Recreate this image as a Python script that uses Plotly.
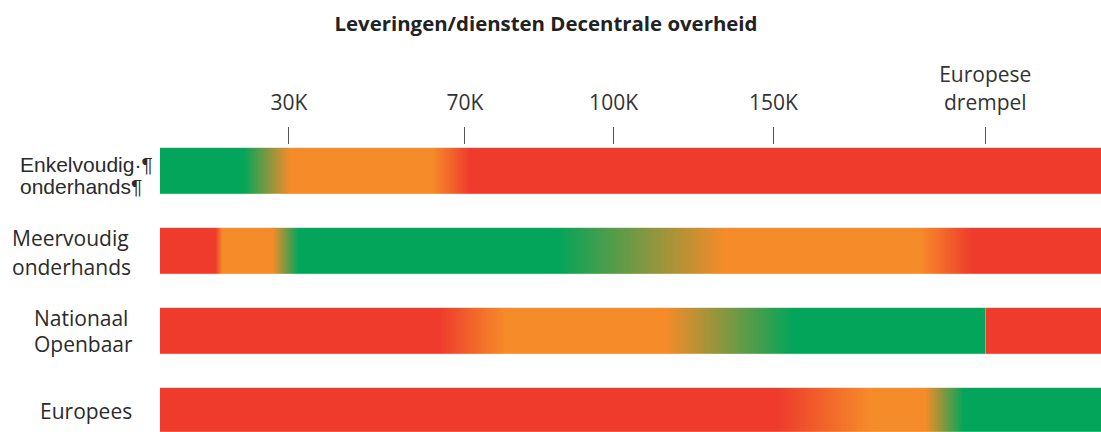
import plotly.graph_objects as go

# Rows (top to bottom); each label as its separate lines
label_lines = [["Enkelvoudig·¶", "onderhands¶"],
               ["Meervoudig", "onderhands"],
               ["Nationaal", "Openbaar"],
               ["Europees"]]
label_fonts = ["Liberation Sans", "Open Sans", "Open Sans", "Open Sans"]

# Colour stops along each bar: position (% of bar length) and level
# level: 0 = groen, 1 = oranje, 2 = rood
enkel_pos = [0, 8.8, 13.8, 28.9, 32.9, 100]
enkel_lvl = [0, 0, 1, 1, 2, 2]
meer_pos = [0, 5.8, 6.6, 11.9, 14.7, 42.2, 60.0, 80.8, 86.3, 100]
meer_lvl = [2, 2, 1, 1, 0, 0, 1, 1, 2, 2]
nat_pos = [0, 29.5, 36.7, 53.7, 67.2, 87.6, 87.8, 100]
nat_lvl = [2, 2, 1, 1, 0, 0, 2, 2]
eu_pos = [0, 65.6, 75.5, 81.3, 85.3, 100]
eu_lvl = [2, 2, 1, 1, 0, 0]

rows_pos = [enkel_pos, meer_pos, nat_pos, eu_pos]
rows_lvl = [enkel_lvl, meer_lvl, nat_lvl, eu_lvl]

# Threshold markers on the schematic scale
threshold_pos = [13.7, 32.4, 48.2, 65.2, 87.7]
threshold_labels = ["30K", "70K", "100K", "150K", "Europese<br>drempel"]

GREEN, ORANGE, RED = "#03a55a", "#f68b29", "#ee3b2c"
colorscale = [[0, GREEN], [0.5, ORANGE], [1, RED]]
HALF = 0.29

# label layout (pixels): left edge, vertical shifts of each line
label_left_px = [18, 10, 32, 38]
label_shifts = [[7, -15], [13, -16], [13, -13], [0]]

W, H = 1101, 432
ML = 160

fig = go.Figure()
for i, (pos, lvl) in enumerate(zip(rows_pos, rows_lvl)):
    fig.add_trace(go.Heatmap(
        x=pos, y=[i - HALF, i, i + HALF], z=[lvl, lvl],
        zmin=0, zmax=2, colorscale=colorscale, zsmooth="best",
        showscale=False, hoverinfo="skip"))

for i, (lines, fnt) in enumerate(zip(label_lines, label_fonts)):
    for line, shift in zip(lines, label_shifts[i]):
        fig.add_annotation(
            text=line, xref="paper", x=(label_left_px[i] - ML) / (W - ML),
            yref="y", y=i, yshift=shift,
            xanchor="left", yanchor="middle", showarrow=False,
            font=dict(family=fnt, size=21, color="#2b2b2b"))

fig.update_layout(
    width=W, height=H,
    margin=dict(l=ML, r=0, t=145, b=0, pad=0, autoexpand=False),
    paper_bgcolor="white", plot_bgcolor="white",
    title=dict(text="<b>Leveringen/diensten Decentrale overheid</b>",
               xref="container", x=546 / W, xanchor="center",
               yref="container", y=1 - 24 / H, yanchor="middle",
               font=dict(family="Open Sans", size=20.4, color="#222")),
    xaxis=dict(range=[0, 100], side="top", tickmode="array",
               tickvals=threshold_pos, ticktext=threshold_labels,
               ticks="outside", ticklen=17, tickwidth=1.3, tickcolor="#555",
               ticklabelstandoff=9,
               showgrid=False, zeroline=False, showline=False,
               tickfont=dict(family="Open Sans", size=21, color="#333"),
               fixedrange=True),
    yaxis=dict(range=[3.2625, -0.325], visible=False, fixedrange=True),
    showlegend=False,
)

fig.write_html(
    "out.html",
    config={"displayModeBar": False},
    post_script="document.body.style.margin='0';document.body.style.overflow='hidden';",
)
